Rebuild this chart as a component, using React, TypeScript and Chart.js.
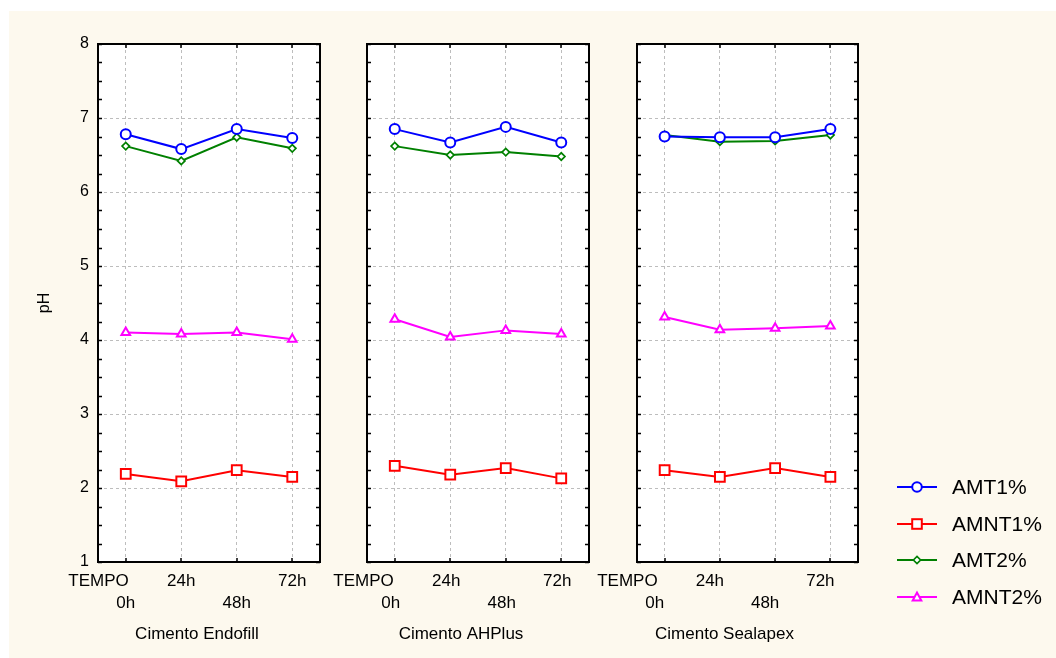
import React, { useEffect, useRef } from 'react';
import { Chart, registerables } from 'chart.js';

Chart.register(...registerables);

// ---------- data ----------
const categories = ['0h', '24h', '48h', '72h'];
const tickLabels: string[][] = [['', '0h'], ['24h'], ['', '48h'], ['72h']];
const axisLabelTempo = 'TEMPO';
const yTitle = 'pH';
const yMin = 1;
const yMax = 8;
const panelTitles = ['Cimento Endofill', 'Cimento AHPlus', 'Cimento Sealapex'];
const seriesNames = ['AMT1%', 'AMNT1%', 'AMT2%', 'AMNT2%'];

const endofillAMT1 = [6.78, 6.58, 6.85, 6.73];
const endofillAMNT1 = [2.19, 2.09, 2.24, 2.15];
const endofillAMT2 = [6.62, 6.42, 6.74, 6.59];
const endofillAMNT2 = [4.10, 4.08, 4.10, 4.01];

const ahplusAMT1 = [6.85, 6.67, 6.88, 6.67];
const ahplusAMNT1 = [2.30, 2.18, 2.27, 2.13];
const ahplusAMT2 = [6.62, 6.50, 6.54, 6.48];
const ahplusAMNT2 = [4.28, 4.04, 4.13, 4.08];

const sealapexAMT1 = [6.75, 6.74, 6.74, 6.85];
const sealapexAMNT1 = [2.24, 2.15, 2.27, 2.15];
const sealapexAMT2 = [6.77, 6.68, 6.69, 6.77];
const sealapexAMNT2 = [4.31, 4.14, 4.16, 4.19];

const panelSeries = [
  [endofillAMT1, endofillAMNT1, endofillAMT2, endofillAMNT2],
  [ahplusAMT1, ahplusAMNT1, ahplusAMT2, ahplusAMNT2],
  [sealapexAMT1, sealapexAMNT1, sealapexAMT2, sealapexAMNT2],
];

// ---------- layout & styles ----------
const FONT = "'Liberation Sans', Arial, Helvetica, sans-serif";
const W = 1056;
const H = 658;
const panelLeft = [98, 367, 637];
const panelRight = [320, 589, 858];
const labelShift = [0, -4, -10];
const titleShift = [-12, -17, -23];
const plotTop = 44;
const xAxisHeight = 96;
const yAxisWidth = 98;
const gridColor = '#bdbdbd';

const seriesStyle = [
  { color: '#0000ff', pointStyle: 'circle', radius: 5, bw: 2 },
  { color: '#ff0000', pointStyle: 'rect', radius: 6.9, bw: 2 },
  { color: '#008000', pointStyle: 'rectRot', radius: 3.7, bw: 1.7 },
  { color: '#ff00ff', pointStyle: 'triangle', radius: 5, bw: 2 },
];

const framePlugin = {
  id: 'frameTicks',
  beforeDraw(chart: any) {
    const { ctx, chartArea: a } = chart;
    ctx.save();
    ctx.fillStyle = '#ffffff';
    ctx.fillRect(a.left, a.top, a.right - a.left, a.bottom - a.top);
    ctx.restore();
  },
  afterDraw(chart: any) {
    const { ctx, chartArea: a } = chart;
    const ys = chart.scales.y;
    const xs = chart.scales.x;
    const idx = chart.options.plugins.frameTicks.panel;
    ctx.save();
    ctx.strokeStyle = '#000';
    ctx.lineWidth = 1.5;
    ctx.beginPath();
    for (let v = ys.min; v <= ys.max + 1e-9; v += 0.25) {
      const py = Math.round(ys.getPixelForValue(v)) + 0.5;
      ctx.moveTo(a.left, py);
      ctx.lineTo(a.left + 4, py);
      ctx.moveTo(a.right, py);
      ctx.lineTo(a.right - 4, py);
    }
    for (let i = 0; i < categories.length; i++) {
      const px = Math.round(xs.getPixelForValue(i));
      ctx.moveTo(px, a.top);
      ctx.lineTo(px, a.top + 4);
      ctx.moveTo(px, a.bottom);
      ctx.lineTo(px, a.bottom - 4);
    }
    ctx.stroke();
    ctx.lineWidth = 2;
    ctx.strokeRect(a.left, a.top, a.right - a.left, a.bottom - a.top);
    ctx.fillStyle = '#000';
    ctx.font = `17px ${FONT}`;
    ctx.textBaseline = 'middle';
    ctx.textAlign = 'right';
    ctx.fillText(axisLabelTempo, xs.getPixelForValue(0) + labelShift[idx] + 3, a.bottom + 8 + 11);
    ctx.textAlign = 'center';
    ctx.fillText(panelTitles[idx], (a.left + a.right) / 2 + titleShift[idx], H - 24);
    ctx.restore();
  },
};

function Panel({ index }: { index: number }) {
  const ref = useRef<HTMLCanvasElement>(null);
  useEffect(() => {
    if (!ref.current) return;
    const showY = index === 0;
    const chart = new Chart(ref.current, {
      type: 'line',
      data: {
        labels: categories,
        datasets: seriesNames.map((name, s) => ({
          label: name,
          data: panelSeries[index][s],
          borderColor: seriesStyle[s].color,
          backgroundColor: '#ffffff',
          pointBackgroundColor: '#ffffff',
          pointBorderColor: seriesStyle[s].color,
          pointStyle: seriesStyle[s].pointStyle as any,
          pointRadius: seriesStyle[s].radius,
          pointBorderWidth: seriesStyle[s].bw,
          borderWidth: 2,
          tension: 0,
          fill: false,
        })),
      },
      options: {
        responsive: false,
        animation: false,
        devicePixelRatio: 1,
        layout: {
          padding: {
            left: panelLeft[index] - (showY ? yAxisWidth : 0),
            right: W - panelRight[index],
            top: plotTop,
            bottom: 0,
          },
        },
        plugins: {
          legend: { display: false },
          tooltip: { enabled: false },
          frameTicks: { panel: index },
        } as any,
        scales: {
          x: {
            type: 'category',
            offset: true,
            grid: { offset: false, color: gridColor, lineWidth: 1, drawTicks: false },
            border: { display: false, dash: [3, 3] },
            ticks: {
              autoSkip: false,
              maxRotation: 0,
              minRotation: 0,
              padding: 8,
              labelOffset: labelShift[index],
              color: '#000',
              font: { size: 17, family: FONT, lineHeight: 1.3 },
              callback: (_v: any, i: number) => tickLabels[i],
            },
            afterFit: (s: any) => {
              s.height = xAxisHeight;
            },
          },
          y: {
            min: yMin,
            max: yMax,
            grid: { color: gridColor, lineWidth: 1, drawTicks: false },
            border: { display: false, dash: [3, 3] },
            ticks: {
              display: showY,
              stepSize: 1,
              padding: 9,
              color: '#000',
              font: { size: 16, family: FONT },
            },
            title: {
              display: showY,
              text: yTitle,
              color: '#000',
              font: { size: 16, family: FONT },
              padding: { top: 35, bottom: 0 },
            },
            afterFit: (s: any) => {
              s.width = showY ? yAxisWidth : 0;
            },
          },
        },
      },
      plugins: [framePlugin],
    });
    return () => chart.destroy();
  }, [index]);
  return (
    <canvas
      ref={ref}
      width={W}
      height={H}
      style={{ position: 'absolute', left: 0, top: 0, width: W, height: H }}
    />
  );
}

function Marker({ s }: { s: number }) {
  const c = seriesStyle[s].color;
  const cx = 20;
  const cy = 8;
  let shape: React.ReactNode = null;
  if (s === 0) shape = <circle cx={cx} cy={cy} r={4.8} fill="#fff" stroke={c} strokeWidth={2} />;
  if (s === 1) shape = <rect x={cx - 4.8} y={cy - 4.8} width={9.6} height={9.6} fill="#fff" stroke={c} strokeWidth={2} />;
  if (s === 2)
    shape = (
      <polygon
        points={`${cx - 3.6},${cy} ${cx},${cy - 3.6} ${cx + 3.6},${cy} ${cx},${cy + 3.6}`}
        fill="#fff"
        stroke={c}
        strokeWidth={1.7}
      />
    );
  if (s === 3)
    shape = (
      <polygon
        points={`${cx - 4.3},${cy + 3.4} ${cx},${cy - 4.4} ${cx + 4.3},${cy + 3.4}`}
        fill="#fff"
        stroke={c}
        strokeWidth={2}
      />
    );
  return (
    <svg width={40} height={16} style={{ display: 'block' }}>
      <line x1={0} y1={cy} x2={40} y2={cy} stroke={c} strokeWidth={2} />
      {shape}
    </svg>
  );
}

const legendRowY = [487, 524, 560, 597];

export default function App() {
  return (
    <div style={{ position: 'absolute', left: 0, top: 0, width: W, height: H, overflow: 'hidden', background: '#ffffff' }}>
      <div style={{ position: 'absolute', left: 9, top: 11, width: W - 9, height: H - 11, background: '#fdf9ee' }} />
      {panelTitles.map((_, i) => (
        <Panel key={i} index={i} />
      ))}
      {seriesNames.map((name, s) => (
        <div
          key={name}
          style={{
            position: 'absolute',
            left: 897,
            top: legendRowY[s] - 15,
            height: 30,
            display: 'flex',
            alignItems: 'center',
            fontFamily: FONT,
            fontSize: 21,
            color: '#000',
            whiteSpace: 'nowrap',
          }}
        >
          <Marker s={s} />
          <span style={{ marginLeft: 15 }}>{name}</span>
        </div>
      ))}
    </div>
  );
}
